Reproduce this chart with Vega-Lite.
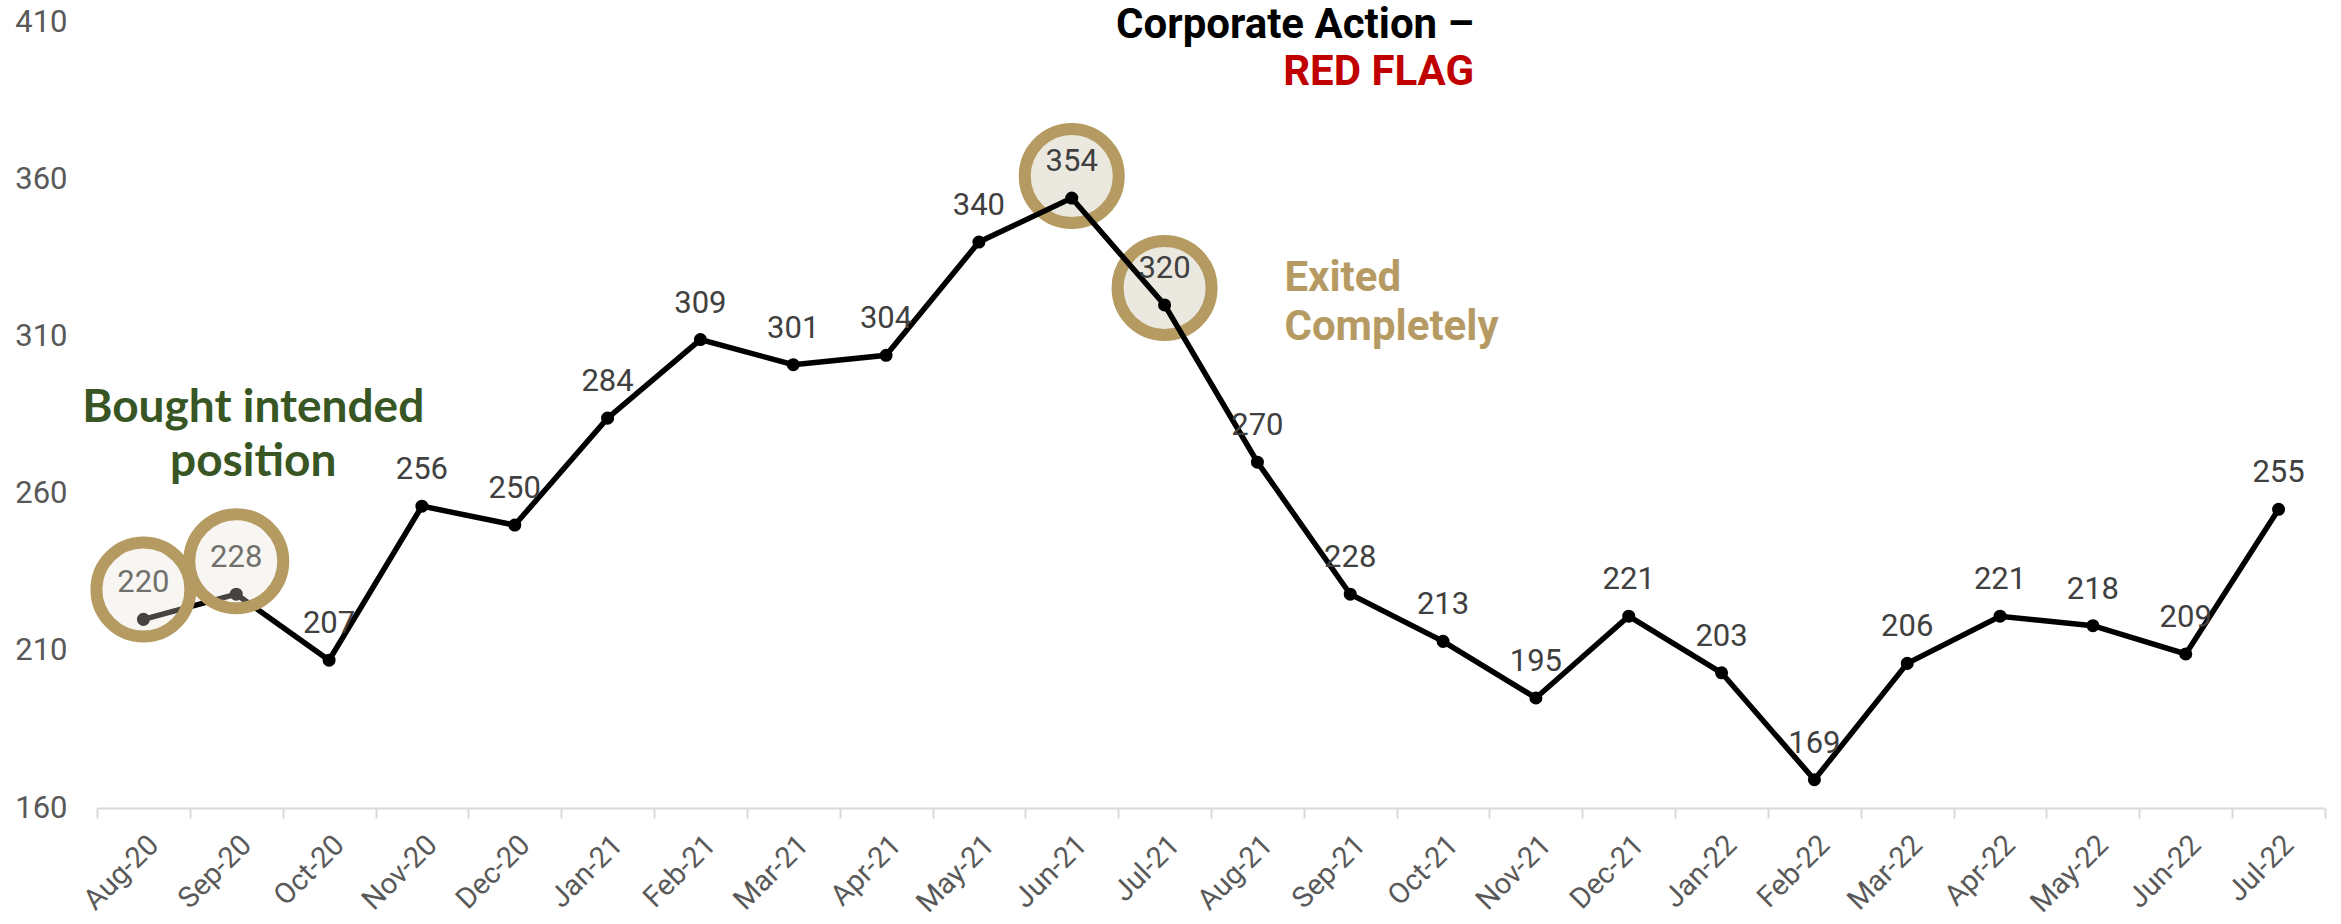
{
  "$schema": "https://vega.github.io/schema/vega-lite/v6.json",
  "width": 2228,
  "height": 786,
  "autosize": {"type": "none"},
  "padding": {"left": 97, "top": 22, "right": 16, "bottom": 116},
  "background": "white",
  "config": {"view": {"stroke": null}, "font": "Roboto"},
  "datasets": {
    "main": [
      {"m": "Aug-20", "v": 220}, {"m": "Sep-20", "v": 228}, {"m": "Oct-20", "v": 207},
      {"m": "Nov-20", "v": 256}, {"m": "Dec-20", "v": 250}, {"m": "Jan-21", "v": 284},
      {"m": "Feb-21", "v": 309}, {"m": "Mar-21", "v": 301}, {"m": "Apr-21", "v": 304},
      {"m": "May-21", "v": 340}, {"m": "Jun-21", "v": 354}, {"m": "Jul-21", "v": 320},
      {"m": "Aug-21", "v": 270}, {"m": "Sep-21", "v": 228}, {"m": "Oct-21", "v": 213},
      {"m": "Nov-21", "v": 195}, {"m": "Dec-21", "v": 221}, {"m": "Jan-22", "v": 203},
      {"m": "Feb-22", "v": 169}, {"m": "Mar-22", "v": 206}, {"m": "Apr-22", "v": 221},
      {"m": "May-22", "v": 218}, {"m": "Jun-22", "v": 209}, {"m": "Jul-22", "v": 255}
    ],
    "circBack": [{"m": "Jun-21", "v": 361}, {"m": "Jul-21", "v": 325.4}],
    "circFront": [{"m": "Aug-20", "v": 229.5}, {"m": "Sep-20", "v": 238.5}]
  },
  "encoding": {
    "x": {
      "field": "m", "type": "ordinal",
      "scale": {"type": "band", "paddingInner": 0, "paddingOuter": 0,
        "domain": ["Aug-20","Sep-20","Oct-20","Nov-20","Dec-20","Jan-21","Feb-21","Mar-21","Apr-21","May-21","Jun-21","Jul-21","Aug-21","Sep-21","Oct-21","Nov-21","Dec-21","Jan-22","Feb-22","Mar-22","Apr-22","May-22","Jun-22","Jul-22"]},
      "bandPosition": 0.5,
      "axis": {
        "title": null, "labelAngle": -45, "labelFontSize": 29, "labelColor": "#595959",
        "labelFont": "Roboto", "labelPadding": 12,
        "domainColor": "#d9d9d9", "domainWidth": 2, "tickColor": "#d9d9d9", "tickWidth": 2,
        "tickSize": 10, "tickBand": "extent", "grid": false
      }
    },
    "y": {
      "field": "v", "type": "quantitative",
      "scale": {"domain": [160, 410], "nice": false, "zero": false},
      "axis": {
        "title": null, "values": [160, 210, 260, 310, 360, 410], "grid": false,
        "domain": false, "ticks": false, "labelPadding": 30, "labelFontSize": 31,
        "labelColor": "#595959", "labelFont": "Roboto"
      }
    }
  },
  "layer": [
    {
      "data": {"name": "circBack"},
      "mark": {"type": "point", "shape": "circle", "filled": true, "size": 8836, "fill": "#ebe8e0", "stroke": "#b59b62", "strokeWidth": 12, "opacity": 1}
    },
    {
      "data": {"name": "main"},
      "mark": {"type": "line", "color": "black", "strokeWidth": 5.5}
    },
    {
      "data": {"name": "main"},
      "mark": {"type": "point", "shape": "circle", "filled": true, "size": 170, "color": "black", "opacity": 1}
    },
    {
      "data": {"name": "main"},
      "mark": {"type": "text", "fontSize": 31, "color": "#404040", "baseline": "alphabetic", "dy": -27, "font": "Roboto"},
      "encoding": {"text": {"field": "v", "type": "quantitative"}}
    },
    {
      "data": {"name": "circFront"},
      "mark": {"type": "point", "shape": "circle", "filled": true, "size": 8836, "fill": "#e6e2d4", "fillOpacity": 0.3, "stroke": "#b59b62", "strokeWidth": 12, "strokeOpacity": 1, "opacity": 1}
    },
    {
      "data": {"values": [{"m": "Sep-20", "v": 287.2, "t": "Bought intended"}, {"m": "Sep-20", "v": 270.0, "t": "position"}]},
      "mark": {"type": "text", "font": "Lato", "fontWeight": "bold", "fontSize": 46, "color": "#375623", "align": "center", "baseline": "middle", "dx": 17},
      "encoding": {"text": {"field": "t"}}
    },
    {
      "data": {"values": [{"m": "Oct-21", "v": 409, "t": "Corporate Action –"}]},
      "mark": {"type": "text", "fontWeight": "bold", "fontSize": 42, "color": "#000000", "align": "right", "baseline": "middle", "dx": 31},
      "encoding": {"text": {"field": "t"}}
    },
    {
      "data": {"values": [{"m": "Oct-21", "v": 394.1, "t": "RED FLAG"}]},
      "mark": {"type": "text", "fontWeight": "bold", "fontSize": 42, "color": "#c00000", "align": "right", "baseline": "middle", "dx": 31},
      "encoding": {"text": {"field": "t"}}
    },
    {
      "data": {"values": [{"m": "Aug-21", "v": 328.6, "t": "Exited"}, {"m": "Aug-21", "v": 313, "t": "Completely"}]},
      "mark": {"type": "text", "fontWeight": "bold", "fontSize": 42, "color": "#b59b63", "align": "left", "baseline": "middle", "dx": 27},
      "encoding": {"text": {"field": "t"}}
    }
  ]
}
